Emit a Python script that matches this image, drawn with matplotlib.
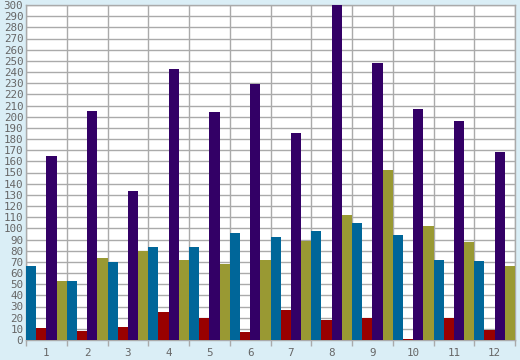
import numpy as np
import matplotlib
matplotlib.use("Agg")
import matplotlib.pyplot as plt

categories = ["1", "2", "3", "4", "5", "6", "7", "8", "9", "10", "11", "12"]
blue = [66, 53, 70, 83, 83, 96, 92, 98, 105, 94, 72, 71]
red = [11, 8, 12, 25, 20, 7, 27, 18, 20, 1, 20, 9]
purple = [165, 205, 133, 243, 204, 229, 185, 300, 248, 207, 196, 168]
olive = [53, 73, 80, 72, 68, 72, 89, 112, 152, 102, 88, 66]

series = [blue, red, purple, olive]
colors = ["#006699", "#990000", "#330066", "#999933"]

bg = "#daeef6"
grid_c = "#aaaaaa"
text_c = "#666666"

fig = plt.figure(figsize=(5.2, 3.6), dpi=100)
fig.patch.set_facecolor(bg)
ax = fig.add_axes([26 / 520, 20 / 360, 489 / 520, 335 / 360])
ax.set_facecolor("white")

x = np.arange(len(categories))
w = 0.25
for i, (vals, c) in enumerate(zip(series, colors)):
    ax.bar(x + (i - 1.5) * w, vals, width=w, color=c, linewidth=0, zorder=3)

ax.set_xlim(-0.5, len(categories) - 0.5)
ax.set_ylim(0, 300)

ax.set_yticks(np.arange(0, 301, 10))
ax.set_xticks(x)
ax.set_xticklabels(categories)
ax.set_xticks(np.arange(-0.5, len(categories)), minor=True)

ax.grid(True, axis="y", which="major", color=grid_c, linewidth=1, zorder=1)
ax.grid(True, axis="x", which="minor", color=grid_c, linewidth=1, zorder=1)

for lab in ax.get_xticklabels() + ax.get_yticklabels():
    lab.set_fontfamily("DejaVu Sans Mono")
    lab.set_fontsize(7.8)
    lab.set_color(text_c)

ax.tick_params(axis="y", which="major", length=0, pad=2)
ax.tick_params(axis="x", which="major", length=0, pad=6)
ax.tick_params(axis="x", which="minor", length=4, color=grid_c, width=1)

for s in ax.spines.values():
    s.set_color(grid_c)
    s.set_linewidth(1)

fig.savefig("out.png", dpi=100, facecolor=bg)
